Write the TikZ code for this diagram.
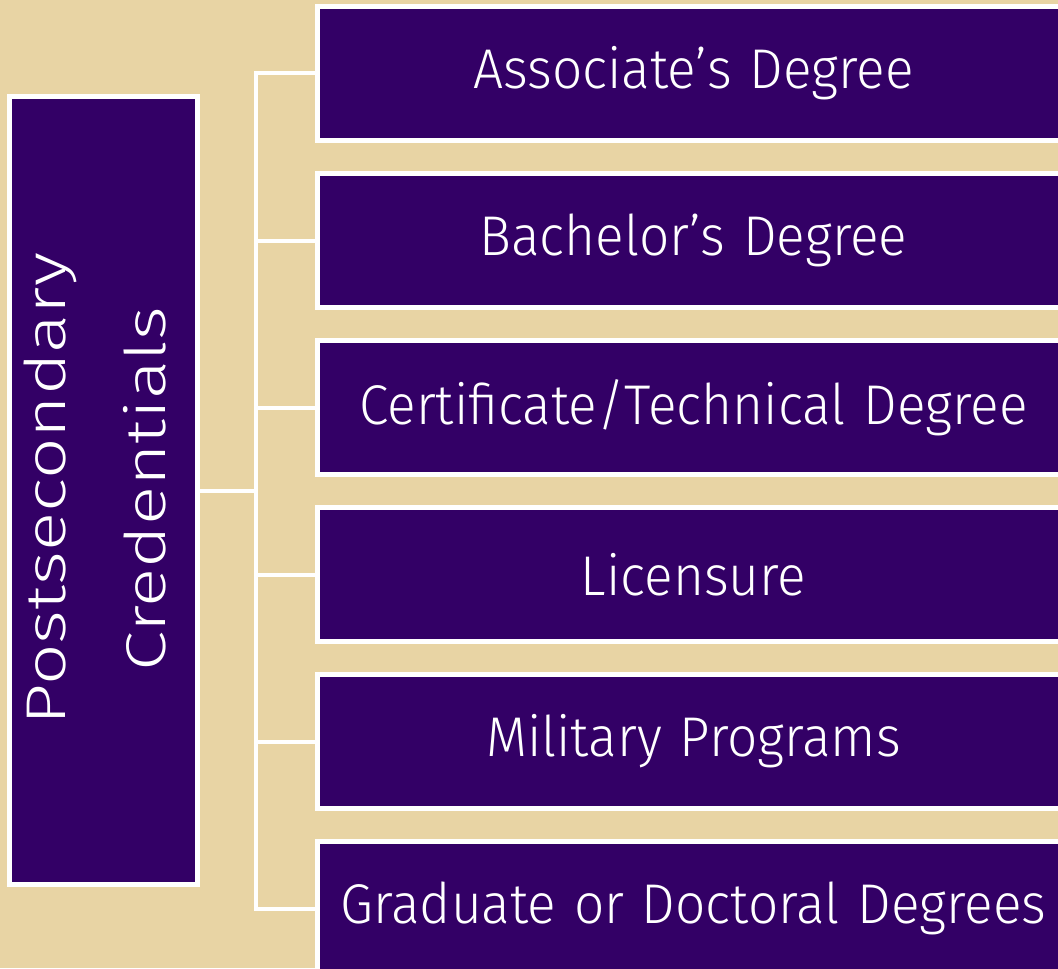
\documentclass[tikz,border=0pt]{standalone}
\usepackage{graphicx}
\usepackage{fontspec}
\setmainfont{Fira Sans}[UprightFont=* Light]
\definecolor{sand}{RGB}{232,212,164}
\definecolor{grape}{RGB}{51,0,102}
\newcommand{\widen}[1]{\scalebox{1.3}[1]{#1}}
\newcommand{\narrow}[1]{\scalebox{0.95}[1]{#1}}
\tikzset{
  credbox/.style={draw=white, line width=2.5pt, fill=grape, text=white,
    inner sep=0pt, align=center, font=\fontsize{28}{32}\selectfont},
  link/.style={draw=white, line width=2pt}
}
\begin{document}
\begin{tikzpicture}[x=0.5pt, y=-0.5pt]
\fill[sand] (0,0) rectangle (1058,968);
\useasboundingbox (0,0) rectangle (1058,968);
% root box
\node[credbox, minimum width=94pt, minimum height=394pt] (root) at (103.5,490.5) {};
\node[text=white, rotate=90, align=center, inner sep=0pt,
  font=\fontsize{28}{50}\selectfont] (roottext) at (95,489) {\widen{Postsecondary}\\\widen{Credentials}};
% credential boxes
\foreach \i/\t in {1/{Associate’s Degree}, 2/{Bachelor’s Degree}, 3/{Certificate/Technical Degree},
  4/{Licensure}, 5/{Military Programs}, 6/{Graduate or Doctoral Degrees}}
  \node[credbox, text width=376pt, minimum height=67pt] (b\i) at (693.5,{73.5+167*(\i-1)}) {\narrow{\t}};
% connectors
\coordinate (hub) at (256,490.5);
\draw[link] (root.east) -- (hub);
\foreach \i in {1,...,6}
  \draw[link] (hub) |- (b\i.west);
\end{tikzpicture}
\end{document}
